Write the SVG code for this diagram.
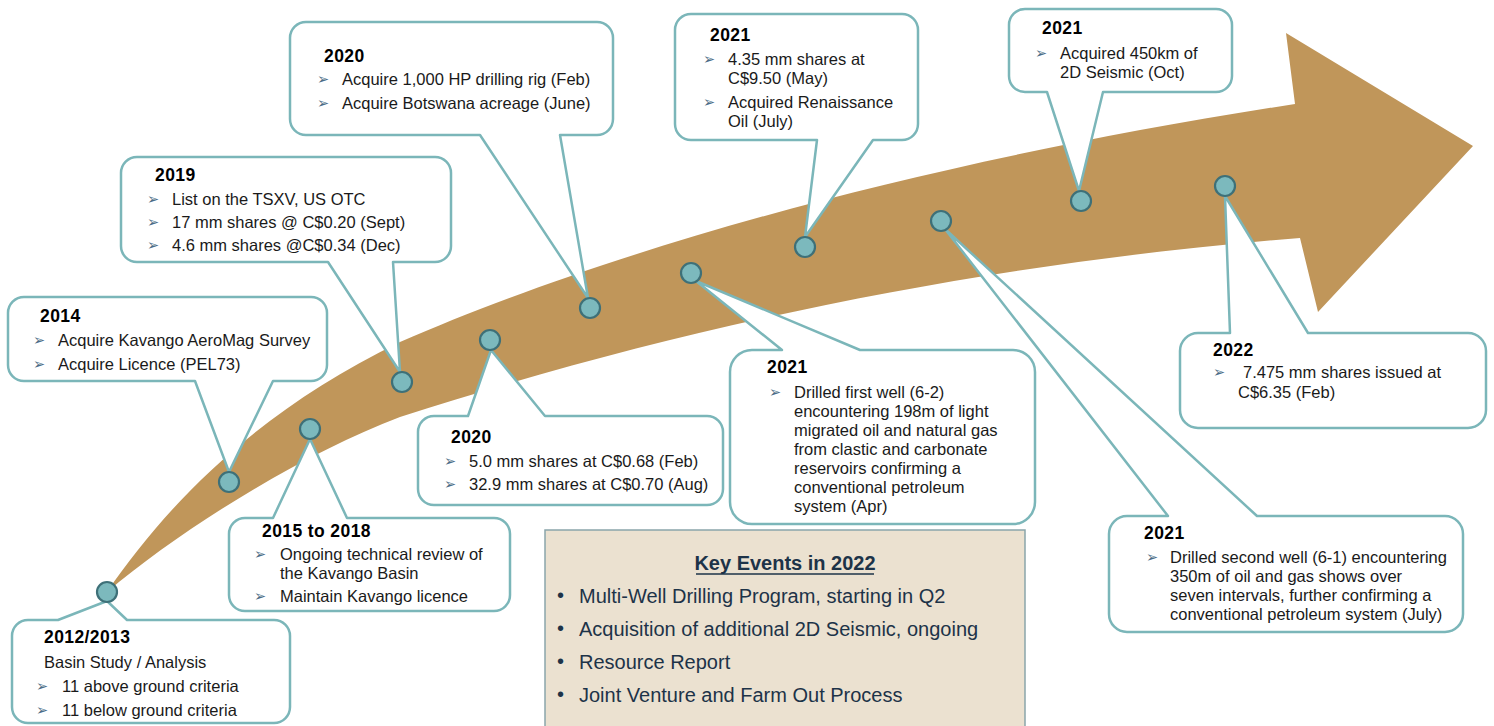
<svg xmlns="http://www.w3.org/2000/svg" width="1494" height="726" viewBox="0 0 1494 726">
<style>
.box{fill:#fff;stroke:#7bb6b9;stroke-width:2.5;stroke-linejoin:round}
.dot{fill:#7cb9bd;stroke:#3e7078;stroke-width:2.2}
.t{font-family:"Liberation Sans",Arial,sans-serif;font-size:16.5px;fill:#1a1a1a}
.y{font-family:"Liberation Sans",Arial,sans-serif;font-size:17.5px;font-weight:bold;fill:#000;letter-spacing:0.4px}
.b{font-family:"DejaVu Sans",sans-serif;font-size:14.5px;fill:#4b6c86}
.k{font-family:"Liberation Sans",Arial,sans-serif;font-size:20px;fill:#1d3348}
</style>
<rect width="1494" height="726" fill="#fff"/>
<g id="timeline-arrow">
<path d="M107,592 C170,500 260,410 400,342 C600,255 900,165 1295,104 L1286,33 L1473,146 L1318,312 L1300,238 C1000,262 700,320 400,417 C300,455 180,530 107,592 Z" fill="#c0965a"/>
</g>
<g id="connectors"></g>
<g id="n2012">
<path class="box" d="M28,620 H58 L107,601 L127,620 H274 A16,16 0 0 1 290,636 V707 A16,16 0 0 1 274,723 H28 A16,16 0 0 1 12,707 V636 A16,16 0 0 1 28,620 Z"/>
<text class="y" x="44" y="643">2012/2013</text>
<text class="t" x="44" y="668">Basin Study / Analysis</text>
<text class="b" x="36" y="691">➢</text><text class="t" x="62" y="692">11 above ground criteria</text>
<text class="b" x="36" y="715">➢</text><text class="t" x="62" y="716">11 below ground criteria</text>
</g>
<g id="n2014">
<path class="box" d="M24,297 H311 A16,16 0 0 1 327,313 V365 A16,16 0 0 1 311,381 H273 L229,472 L195,381 H24 A16,16 0 0 1 8,365 V313 A16,16 0 0 1 24,297 Z"/>
<text class="y" x="40" y="322">2014</text>
<text class="b" x="33" y="345">➢</text><text class="t" x="58" y="346">Acquire Kavango AeroMag Survey</text>
<text class="b" x="33" y="369">➢</text><text class="t" x="58" y="370">Acquire Licence (PEL73)</text>
</g>
<g id="n2019">
<path class="box" d="M137,157 H435 A16,16 0 0 1 451,173 V246 A16,16 0 0 1 435,262 H393 L400,372 L328,262 H137 A16,16 0 0 1 121,246 V173 A16,16 0 0 1 137,157 Z"/>
<text class="y" x="155" y="181">2019</text>
<text class="b" x="147" y="204">➢</text><text class="t" x="172" y="205">List on the TSXV, US OTC</text>
<text class="b" x="147" y="227">➢</text><text class="t" x="172" y="228">17 mm shares @ C$0.20 (Sept)</text>
<text class="b" x="147" y="250">➢</text><text class="t" x="172" y="251">4.6 mm shares @C$0.34 (Dec)</text>
</g>
<g id="n2020a">
<path class="box" d="M306,22 H597 A16,16 0 0 1 613,38 V119 A16,16 0 0 1 597,135 H560 L588,298 L480,135 H306 A16,16 0 0 1 290,119 V38 A16,16 0 0 1 306,22 Z"/>
<text class="y" x="324" y="62">2020</text>
<text class="b" x="317" y="84">➢</text><text class="t" x="342" y="85">Acquire 1,000 HP drilling rig (Feb)</text>
<text class="b" x="317" y="108">➢</text><text class="t" x="342" y="109">Acquire Botswana acreage (June)</text>
</g>
<g id="n2021a">
<path class="box" d="M691,14 H902 A16,16 0 0 1 918,30 V124 A16,16 0 0 1 902,140 H873 L805,237 L817,140 H691 A16,16 0 0 1 675,124 V30 A16,16 0 0 1 691,14 Z"/>
<text class="y" x="710" y="41">2021</text>
<text class="b" x="703" y="64">➢</text><text class="t" x="728" y="65">4.35 mm shares at</text>
<text class="t" x="728" y="84">C$9.50 (May)</text>
<text class="b" x="703" y="107">➢</text><text class="t" x="728" y="108">Acquired Renaissance</text>
<text class="t" x="728" y="127">Oil (July)</text>
</g>
<g id="n2021b">
<path class="box" d="M1025,9 H1216 A16,16 0 0 1 1232,25 V76 A16,16 0 0 1 1216,92 H1103 L1079,191 L1047,92 H1025 A16,16 0 0 1 1009,76 V25 A16,16 0 0 1 1025,9 Z"/>
<text class="y" x="1042" y="34">2021</text>
<text class="b" x="1035" y="58">➢</text><text class="t" x="1060" y="59">Acquired 450km of</text>
<text class="t" x="1060" y="78">2D Seismic (Oct)</text>
</g>
<g id="n2015">
<path class="box" d="M245,518 H273 L310,439 L347,518 H494 A16,16 0 0 1 510,534 V595 A16,16 0 0 1 494,611 H245 A16,16 0 0 1 229,595 V534 A16,16 0 0 1 245,518 Z"/>
<text class="y" x="262" y="537">2015 to 2018</text>
<text class="b" x="254" y="559">➢</text><text class="t" x="280" y="560">Ongoing technical review of</text>
<text class="t" x="280" y="579">the Kavango Basin</text>
<text class="b" x="254" y="601">➢</text><text class="t" x="280" y="602">Maintain Kavango licence</text>
</g>
<g id="n2020b">
<path class="box" d="M434,416 H468 L491,350 L545,416 H707 A16,16 0 0 1 723,432 V489 A16,16 0 0 1 707,505 H434 A16,16 0 0 1 418,489 V432 A16,16 0 0 1 434,416 Z"/>
<text class="y" x="451" y="443">2020</text>
<text class="b" x="444" y="466">➢</text><text class="t" x="469" y="467">5.0 mm shares at C$0.68 (Feb)</text>
<text class="b" x="444" y="489">➢</text><text class="t" x="469" y="490">32.9 mm shares at C$0.70 (Aug)</text>
</g>
<g id="n2021c">
<path class="box" d="M752,350 H782 L696,281 L860,350 H1013 A22,22 0 0 1 1035,372 V502 A22,22 0 0 1 1013,524 H752 A22,22 0 0 1 730,502 V372 A22,22 0 0 1 752,350 Z"/>
<text class="y" x="767" y="373">2021</text>
<text class="b" x="769" y="397">➢</text>
<text class="t" x="794" y="398">Drilled first well (6-2)</text>
<text class="t" x="794" y="417">encountering 198m of light</text>
<text class="t" x="794" y="436">migrated oil and natural gas</text>
<text class="t" x="794" y="455">from clastic and carbonate</text>
<text class="t" x="794" y="474">reservoirs confirming a</text>
<text class="t" x="794" y="493">conventional petroleum</text>
<text class="t" x="794" y="512">system (Apr)</text>
</g>
<g id="n2022">
<path class="box" d="M1198,333 H1230 L1225,196 L1308,333 H1468 A18,18 0 0 1 1486,351 V410 A18,18 0 0 1 1468,428 H1198 A18,18 0 0 1 1180,410 V351 A18,18 0 0 1 1198,333 Z"/>
<text class="y" x="1213" y="356">2022</text>
<text class="b" x="1213" y="377">➢</text><text class="t" x="1243" y="378">7.475 mm shares issued at</text>
<text class="t" x="1238" y="398">C$6.35 (Feb)</text>
</g>
<g id="n2021d">
<path class="box" d="M1127,516 H1168 L945,229 L1257,516 H1445 A18,18 0 0 1 1463,534 V614 A18,18 0 0 1 1445,632 H1127 A18,18 0 0 1 1109,614 V534 A18,18 0 0 1 1127,516 Z"/>
<text class="y" x="1144" y="539">2021</text>
<text class="b" x="1146" y="562">➢</text>
<text class="t" x="1170" y="563">Drilled second well (6-1) encountering</text>
<text class="t" x="1170" y="582">350m of oil and gas shows over</text>
<text class="t" x="1170" y="601">seven intervals, further confirming a</text>
<text class="t" x="1170" y="620">conventional petroleum system (July)</text>
</g>
<g id="markers">
<circle class="dot" cx="107" cy="592" r="10"/>
<circle class="dot" cx="229" cy="482" r="10"/>
<circle class="dot" cx="310" cy="429" r="10"/>
<circle class="dot" cx="402" cy="382" r="10"/>
<circle class="dot" cx="490" cy="340" r="10"/>
<circle class="dot" cx="590" cy="308" r="10"/>
<circle class="dot" cx="691" cy="273" r="10"/>
<circle class="dot" cx="805" cy="247" r="10"/>
<circle class="dot" cx="941" cy="221" r="10"/>
<circle class="dot" cx="1081" cy="201" r="10"/>
<circle class="dot" cx="1225" cy="186" r="10"/>
</g>
<g id="key-events">
<rect x="545" y="530" width="480" height="200" fill="#ebe1d0" stroke="#8aa5aa" stroke-width="1.5"/>
<text class="k" x="785" y="570" text-anchor="middle" font-weight="bold" font-size="19.5">Key Events in 2022</text>
<line x1="696" y1="574" x2="874" y2="574" stroke="#1d3348" stroke-width="1.5"/>
<text class="k" x="557" y="602">•</text><text class="k" x="579" y="603">Multi-Well Drilling Program, starting in Q2</text>
<text class="k" x="557" y="635">•</text><text class="k" x="579" y="636">Acquisition of additional 2D Seismic, ongoing</text>
<text class="k" x="557" y="668">•</text><text class="k" x="579" y="669">Resource Report</text>
<text class="k" x="557" y="701">•</text><text class="k" x="579" y="702">Joint Venture and Farm Out Process</text>
</g>
</svg>
